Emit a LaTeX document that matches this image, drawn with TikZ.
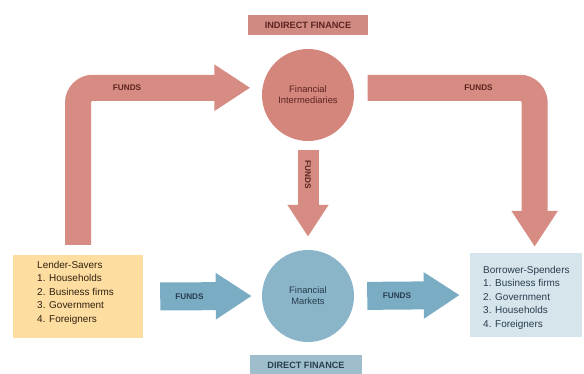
\documentclass[tikz,border=0pt]{standalone}
\usepackage{fontspec}
\setmainfont{Liberation Sans}
\usetikzlibrary{arrows.meta}
\definecolor{pinkflow}{RGB}{214,140,130}
\definecolor{pinkcirc}{RGB}{212,134,124}
\definecolor{pinklab}{RGB}{208,138,130}
\definecolor{pinktext}{RGB}{92,36,32}
\definecolor{blueflow}{RGB}{122,172,196}
\definecolor{bluecirc}{RGB}{138,180,200}
\definecolor{bluelab}{RGB}{158,190,206}
\definecolor{bluetext}{RGB}{40,62,78}
\definecolor{lenderfill}{RGB}{253,222,160}
\definecolor{borrowfill}{RGB}{214,228,236}
\begin{document}
\begin{tikzpicture}[x=0.03cm,y=-0.03cm,
		bigflow/.style={line width=0.78cm, -{Triangle[length=1.08cm,width=1.32cm]}},
		smallflow/.style={line width=0.63cm, -{Triangle[length=0.96cm,width=1.17cm]}},
		fundtext/.style={font=\fontsize{7}{8}\selectfont\bfseries},
		agent/.style={rectangle, inner sep=0pt, font=\fontsize{8.5}{11.5}\selectfont, align=left},
		market/.style={circle, minimum size=2.76cm, inner sep=0pt, font=\fontsize{8}{9.5}\selectfont, align=center},
		finlabel/.style={rectangle, inner sep=0pt, font=\fontsize{7.8}{9}\selectfont\bfseries}]
	\useasboundingbox (0,0) rectangle (584,374);
	% boxes and circles
	\node[agent, fill=lenderfill, minimum width=3.9cm, minimum height=2.49cm] (lender) at (78,296.5) {};
	\node[agent, anchor=north west, text=black!75!brown] (lendertext) at (37,261) {Lender-Savers\\1. Households\\2. Business firms\\3. Government\\4. Foreigners};
	\node[agent, fill=borrowfill, minimum width=3.36cm, minimum height=2.52cm] (borrower) at (526,295) {};
	\node[agent, anchor=north west, text=bluetext] (borrowtext) at (483,266) {Borrower-Spenders\\1. Business firms\\2. Government\\3. Households\\4. Foreigners};
	\node[market, fill=pinkcirc, text=pinktext] (inter) at (308,95) {Financial\\Intermediaries};
	\node[market, fill=bluecirc, text=bluetext] (markets) at (308,296) {Financial\\Markets};
	\node[finlabel, fill=pinklab, text=pinktext, minimum width=3.6cm, minimum height=0.6cm] (indirect) at (308,25) {INDIRECT FINANCE};
	\node[finlabel, fill=bluelab, text=bluetext, minimum width=3.36cm, minimum height=0.57cm] (direct) at (306,365) {DIRECT FINANCE};
	% funds
	\draw[bigflow, pinkflow, rounded corners=0.45cm, shorten <=0.3cm, shorten >=0.36cm] (lender.north) |- (inter.171)
		node[fundtext, text=pinktext, pos=0.633] {FUNDS};
	\draw[bigflow, pinkflow, rounded corners=0.45cm, shorten <=0.42cm, shorten >=0.18cm] (inter.9) -| ([xshift=0.26cm]borrower.north)
		node[fundtext, text=pinktext, pos=0.345] {FUNDS};
	\draw[smallflow, pinkflow, shorten <=0.27cm, shorten >=0.39cm] (inter.south) -- (markets.north)
		node[fundtext, text=pinktext, pos=0.31, rotate=-90] {FUNDS};
	\draw[bigflow, blueflow, line width=0.84cm, shorten <=0.51cm, shorten >=0.3cm] (lender.east) -- (markets.west)
		node[fundtext, text=bluetext, pos=0.39] {FUNDS};
	\draw[bigflow, blueflow, line width=0.84cm, shorten <=0.39cm, shorten >=0.3cm] (markets.east) -- (borrower.west)
		node[fundtext, text=bluetext, pos=0.37] {FUNDS};
\end{tikzpicture}
\end{document}
